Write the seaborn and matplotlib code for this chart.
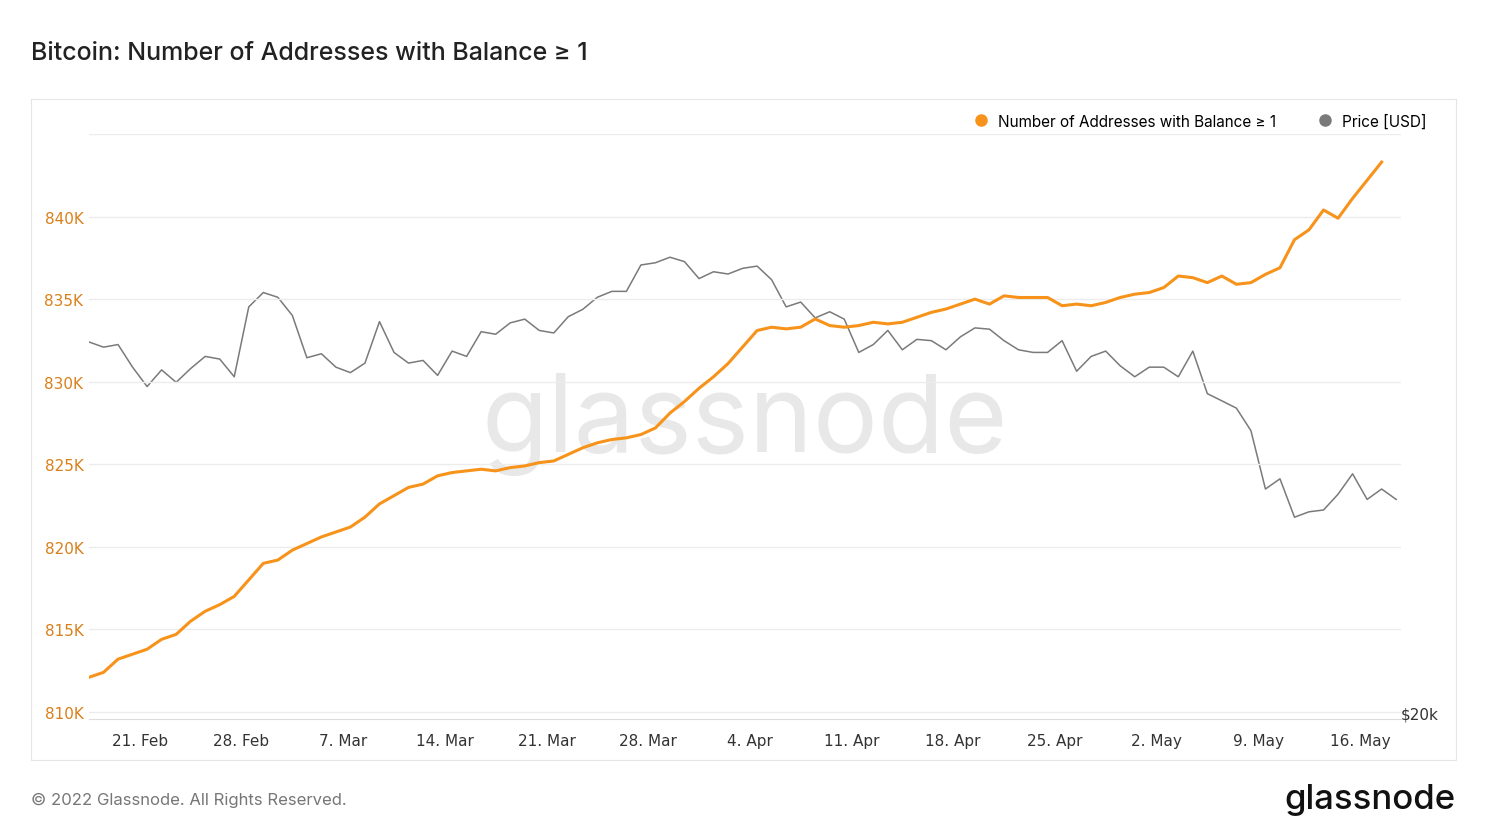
import numpy as np
import pandas as pd
import matplotlib
matplotlib.use("Agg")
import matplotlib.pyplot as plt
import matplotlib.dates as mdates
import matplotlib.ticker as mticker
import seaborn as sns
from matplotlib.lines import Line2D

addresses_k = [812.1, 812.4, 813.2, 813.5, 813.8, 814.4, 814.7, 815.5, 816.1, 816.5,
               817.0, 818.0, 819.0, 819.2, 819.8, 820.2, 820.6, 820.9, 821.2, 821.8,
               822.6, 823.1, 823.6, 823.8, 824.3, 824.5, 824.6, 824.7, 824.6, 824.8,
               824.9, 825.1, 825.2, 825.6, 826.0, 826.3, 826.5, 826.6, 826.8, 827.2,
               828.1, 828.8, 829.6, 830.3, 831.1, 832.1, 833.1, 833.3, 833.2, 833.3,
               833.8, 833.4, 833.3, 833.4, 833.6, 833.5, 833.6, 833.9, 834.2, 834.4,
               834.7, 835.0, 834.7, 835.2, 835.1, 835.1, 835.1, 834.6, 834.7, 834.6,
               834.8, 835.1, 835.3, 835.4, 835.7, 836.4, 836.3, 836.0, 836.4, 835.9,
               836.0, 836.5, 836.9, 838.6, 839.2, 840.4, 839.9, 841.1, 842.2, 843.3]
price_k = [40.5, 40.1, 40.3, 38.6, 37.2, 38.4, 37.5, 38.5, 39.4, 39.2,
           37.9, 43.3, 44.5, 44.1, 42.6, 39.3, 39.6, 38.6, 38.2, 38.9,
           42.1, 39.7, 38.9, 39.1, 38.0, 39.8, 39.4, 41.3, 41.1, 42.0,
           42.3, 41.4, 41.2, 42.5, 43.1, 44.1, 44.6, 44.6, 46.9, 47.1,
           47.6, 47.2, 45.7, 46.3, 46.1, 46.6, 46.8, 45.6, 43.3, 43.7,
           42.4, 42.9, 42.3, 39.7, 40.3, 41.4, 39.9, 40.7, 40.6, 39.9,
           40.9, 41.6, 41.5, 40.6, 39.9, 39.7, 39.7, 40.6, 38.3, 39.4,
           39.8, 38.7, 37.9, 38.6, 38.6, 37.9, 39.8, 36.7, 36.2, 35.7,
           34.2, 30.6, 31.2, 29.0, 29.3, 29.4, 30.3, 31.5, 30.0, 30.6, 30.0]
start_date = "2022-02-17 12:00"
left_ticks = [810, 815, 820, 825, 830, 835, 840]

orange = "#f7931a"
gray = "#7a7a7a"

d_addr = pd.DataFrame({"date": pd.date_range(start_date, periods=len(addresses_k)),
                       "v": np.array(addresses_k) * 1000})
d_price = pd.DataFrame({"date": pd.date_range(start_date, periods=len(price_k)),
                        "v": np.array(price_k) * 1000})

fig = plt.figure(figsize=(14.88, 8.37), dpi=100)
W, H = 1488, 837
frame = fig.add_axes([31 / W, 1 - 761 / H, (1456 - 31) / W, (761 - 100) / H])
frame.set_xticks([]); frame.set_yticks([])
for s in frame.spines.values():
    s.set_color("#e6e6e6")
frame.patch.set_alpha(0)

fig.text(745 / W, 1 - 425 / H, "glassnode", fontsize=78, color="#e8e8e8",
         ha="center", va="center", fontfamily="Inter", zorder=0)

ax = fig.add_axes([89 / W, 1 - 720 / H, (1401 - 89) / W, (720 - 135) / H])
ax.patch.set_alpha(0)
ax2 = ax.twinx()
ax2.patch.set_alpha(0)
ax.set_zorder(ax2.get_zorder() + 1)

sns.lineplot(data=d_price, x="date", y="v", ax=ax2, color=gray, lw=1.1)
sns.lineplot(data=d_addr, x="date", y="v", ax=ax, color=orange, lw=2.2)

ax.set_ylim(809575, 845000)
ax.set_yticks([t * 1000 for t in left_ticks])
ax.yaxis.set_major_formatter(mticker.FuncFormatter(lambda v, p: f"{v/1000:.0f}K"))
ax.tick_params(axis="y", labelsize=11, length=0, pad=4, labelcolor="#d9801a")
ax.grid(axis="y", color="#ececec", lw=1)
ax.axhline(845000, color="#ececec", lw=1)

ax2.set_yscale("log")
ax2.set_ylim(19740, 60200)
ax2.yaxis.set_major_locator(mticker.FixedLocator([20000]))
ax2.yaxis.set_minor_locator(mticker.NullLocator())
ax2.yaxis.set_major_formatter(mticker.FuncFormatter(lambda v, p: "$20k"))
ax2.tick_params(axis="y", labelsize=11, length=0, pad=0, labelcolor="#333333")

ax.set_xlim(pd.Timestamp("2022-02-17 12:00"), pd.Timestamp("2022-05-18 20:00"))
ax.xaxis.set_major_locator(
    mticker.FixedLocator(mdates.date2num(pd.date_range("2022-02-21", periods=13, freq="7D"))))
ax.xaxis.set_major_formatter(mdates.DateFormatter("%-d. %b"))
ax.tick_params(axis="x", labelsize=11, length=0, pad=10, labelcolor="#333333")
for a in (ax, ax2):
    a.set_xlabel(""); a.set_ylabel("")
    for s in a.spines.values():
        s.set_visible(False)
ax.spines["bottom"].set_visible(True)
ax.spines["bottom"].set_color("#dddddd")

fig.text(31 / W, 1 - 53 / H, "Bitcoin: Number of Addresses with Balance ≥ 1",
         fontsize=18, color="#222222", va="center", fontfamily="Inter", fontweight="medium")
fig.text(31 / W, 1 - 800 / H, "© 2022 Glassnode. All Rights Reserved.",
         fontsize=12, color="#777777", va="center", fontfamily="Inter")
fig.text(1456 / W, 1 - 800 / H, "glassnode", fontsize=25, color="#111111",
         va="center", ha="right", fontfamily="Inter", fontweight="medium")

handles = [Line2D([], [], marker="o", ls="", color=orange, markersize=8),
           Line2D([], [], marker="o", ls="", color=gray, markersize=8)]
fig.legend(handles, ["Number of Addresses with Balance ≥ 1", "Price [USD]"],
           loc="center right", bbox_to_anchor=(1440 / W, 1 - 122 / H), ncol=2,
           frameon=False, handletextpad=0.1, columnspacing=2.2,
           prop={"family": "Inter", "size": 11})

fig.savefig("out.png", dpi=100)
